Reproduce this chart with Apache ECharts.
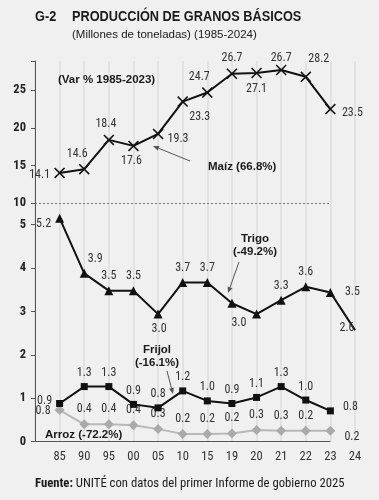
<!DOCTYPE html>
<html><head><meta charset="utf-8">
<script src="https://cdn.jsdelivr.net/npm/echarts@6/dist/echarts.min.js"></script>
<style>html,body{margin:0;padding:0;background:#f0f0f0}#c{width:379px;height:500px}</style>
</head><body><div id="c"></div>
<script>
// ---- data ----
const categories = ['85','90','95','00','05','10','15','19','20','21','22','23','24'];
const maiz = [14.0, 14.5, 18.4, 17.6, 19.2, 23.5, 24.7, 27.2, 27.3, 27.7, 26.8, 22.5];
const maizLabels = ['14.1','14.6','18.4','17.6','19.3','23.3','24.7','26.7','27.1','26.7','28.2','23.5'];
const trigo = [5.15, 3.88, 3.48, 3.48, 2.94, 3.67, 3.67, 3.19, 2.94, 3.26, 3.57, 3.44, 2.57];
const trigoLabels = ['5.2','3.9','3.5','3.5','3.0','3.7','3.7','3.0','','3.3','3.6','3.5','2.6'];
const frijol = [0.88, 1.27, 1.27, 0.86, 0.78, 1.17, 0.94, 0.88, 1.02, 1.27, 0.96, 0.71];
const frijolLabels = ['0.9','1.3','1.3','0.9','0.8','1.2','1.0','0.9','1.1','1.3','1.0','0.8'];
const arroz = [0.73, 0.40, 0.40, 0.38, 0.29, 0.18, 0.18, 0.19, 0.27, 0.25, 0.25, 0.25];
const arrozLabels = ['0.8','0.4','0.4','0.4','0.3','0.2','0.2','0.2','0.3','0.3','0.2','0.2'];

// ---- label placement (style) ----
const maizPos = [['left',0,2],['top',-7,0],['top',-3,0],['bottom',-2,0],['right',0,5],['bottom',17,0],
  ['top',-8,0],['top',0,0],['bottom',0,0],['top',0,3],['top',13,-2],['right',2,4]];
const trigoPos = [['left',0,6],['top',11,0],['top',0,0],['top',0,0],['bottom',1,0],['top',0,0],['top',0,0],
  ['bottom',7,5],['top',0,0],['top',0,0],['top',0,0],['right',6,0],['left',8,-2]];
const frijolPos = [['left',0,-3],['top',0,0],['top',0,0],['top',0,0],['top',0,0],['top',0,0],['top',0,0],
  ['top',0,0],['top',0,0],['top',0,0],['top',0,0],['right',5,-4]];
const arrozPos = [['left',0,1],['top',0,0],['top',0,0],['top',0,0],['top',0,0],['top',0,0],['top',0,0],
  ['top',0,0],['top',0,0],['top',0,0],['top',0,0],['right',5,6]];

const FONT = "'Liberation Sans Narrow', 'Roboto Condensed', 'DejaVu Sans Condensed', Roboto, sans-serif";
const WFONT = "'Liberation Sans', Arial, Roboto, sans-serif";
const cats = [''].concat(categories);

function build(vals, labels, pos, noMarkerLast) {
  return ['-'].concat(vals.map((v, i) => {
    const item = {
      value: v,
      label: { formatter: labels[i], position: pos[i][0], offset: [pos[i][1], pos[i][2]], show: labels[i] !== '' }
    };
    if (noMarkerLast && i === vals.length - 1) item.itemStyle = { color: 'rgba(0,0,0,0)' };
    return item;
  }));
}
const baseLabel = { show: true, fontSize: 12, color: '#333', fontFamily: FONT, distance: 4 };

function arrow(x1, y1, x2, y2) {
  const dx = x2 - x1, dy = y2 - y1, L = Math.hypot(dx, dy), ux = dx / L, uy = dy / L;
  const bx = x2 - 6 * ux, by = y2 - 6 * uy, px = -uy * 2.5, py = ux * 2.5;
  return [
    { type: 'line', z: 100, shape: { x1, y1, x2: bx, y2: by }, style: { stroke: '#555', lineWidth: 1 } },
    { type: 'polygon', z: 100, shape: { points: [[x2, y2], [bx + px, by + py], [bx - px, by - py]] }, style: { fill: '#555' } }
  ];
}
function txt(x, y, text, size, weight, align, sx) {
  return { type: 'text', z: 100, x, y, scaleX: sx || 1, style: { text, font: weight + ' ' + size + 'px ' + WFONT, fill: '#1a1a1a', align: align || 'left', verticalAlign: 'middle' } };
}

const axisLineStyle = { color: '#555', width: 1 };
const splitStyle = { show: true, lineStyle: { color: '#e2e2e2', width: 2 } };
const yLabel = { fontSize: 12.5, fontWeight: 'bold', color: '#222', fontFamily: FONT, margin: 9,
  formatter: v => Number.isInteger(v) ? String(v) : '' };

const chart = echarts.init(document.getElementById('c'), null, { renderer: 'canvas' });
chart.setOption({
  backgroundColor: '#f0f0f0',
  animation: false,
  grid: [
    { left: 35, right: 24, top: 61, height: 142 },
    { left: 35, right: 24, top: 203, height: 238.7 }
  ],
  xAxis: [
    { type: 'category', gridIndex: 0, data: cats, boundaryGap: false, axisLine: { show: false },
      axisTick: { show: false }, axisLabel: { show: false }, splitLine: splitStyle },
    { type: 'category', gridIndex: 1, data: cats, boundaryGap: false, axisLine: { show: false },
      axisTick: { show: false }, splitLine: splitStyle,
      axisLabel: { fontSize: 12.5, color: '#333', fontFamily: FONT, margin: 9 } }
  ],
  yAxis: [
    { type: 'value', gridIndex: 0, min: 10, max: 28.9, interval: 5, splitLine: { show: false },
      axisLine: { show: true, lineStyle: axisLineStyle }, axisTick: { show: true, length: 4, lineStyle: axisLineStyle },
      axisLabel: yLabel },
    { type: 'value', gridIndex: 1, min: 0, max: 5.5, interval: 1, splitLine: { show: false },
      axisLine: { show: true, lineStyle: axisLineStyle }, axisTick: { show: true, length: 4, lineStyle: axisLineStyle },
      axisLabel: yLabel }
  ],
  series: [
    { name: 'Maíz', type: 'line', xAxisIndex: 0, yAxisIndex: 0, data: build(maiz, maizLabels, maizPos),
      symbol: 'path://M0,1L1,0L5,4L9,0L10,1L6,5L10,9L9,10L5,6L1,10L0,9L4,5Z', symbolSize: 11,
      lineStyle: { color: '#111', width: 2 }, itemStyle: { color: '#111' }, label: baseLabel, z: 5,
      markLine: { silent: true, symbol: 'none', label: { show: false },
        lineStyle: { color: '#777', type: [2, 2], width: 1 },
        data: [[{ coord: ['', 10] }, { coord: ['23', 10] }]] } },
    { name: 'Trigo', type: 'line', xAxisIndex: 1, yAxisIndex: 1, data: build(trigo, trigoLabels, trigoPos, true),
      symbol: 'triangle', symbolSize: 9, lineStyle: { color: '#111', width: 2 }, itemStyle: { color: '#111' },
      label: baseLabel, z: 5 },
    { name: 'Frijol', type: 'line', xAxisIndex: 1, yAxisIndex: 1, data: build(frijol, frijolLabels, frijolPos),
      symbol: 'rect', symbolSize: 7, lineStyle: { color: '#111', width: 2 }, itemStyle: { color: '#111' },
      label: baseLabel, z: 5 },
    { name: 'Arroz', type: 'line', xAxisIndex: 1, yAxisIndex: 1, data: build(arroz, arrozLabels, arrozPos),
      symbol: 'diamond', symbolSize: 10, lineStyle: { color: '#b8b8b8', width: 2 }, itemStyle: { color: '#aaaaaa' },
      label: baseLabel, z: 4,
      markLine: { silent: true, symbol: 'none', label: { show: false },
        lineStyle: { color: '#555', type: 'solid', width: 1 },
        data: [[{ coord: ['', 0] }, { coord: ['23', 0] }]] } }
  ],
  graphic: [
    txt(35, 17, 'G-2', 14, 'bold', 'left', 0.91),
    txt(72, 17, 'PRODUCCIÓN DE GRANOS BÁSICOS', 14, 'bold', 'left', 0.91),
    txt(72, 35, '(Millones de toneladas) (1985-2024)', 11.5, 'normal'),
    txt(58, 80, '(Var % 1985-2023)', 11.5, 'bold'),
    txt(208, 167, 'Maíz (66.8%)', 11.5, 'bold'),
    txt(255, 239, 'Trigo', 11.5, 'bold', 'center'),
    txt(255, 252, '(-49.2%)', 11.5, 'bold', 'center'),
    txt(157, 350, 'Frijol', 11.5, 'bold', 'center'),
    txt(157, 363, '(-16.1%)', 11.5, 'bold', 'center'),
    txt(45, 435, 'Arroz (-72.2%)', 11.5, 'bold'),
    { type: 'text', z: 100, x: 35, y: 484, style: { text: '{b|Fuente:} UNITÉ con datos del primer Informe de gobierno 2025',
      font: 'normal 12.7px ' + FONT, fill: '#1a1a1a', verticalAlign: 'middle',
      rich: { b: { fontWeight: 'bold', fontSize: 12.7, fontFamily: FONT, fill: '#1a1a1a' } } } }
  ].concat(arrow(190, 161, 153, 146), arrow(239, 262, 228, 293), arrow(167, 371, 173, 394))
});
</script></body></html>
